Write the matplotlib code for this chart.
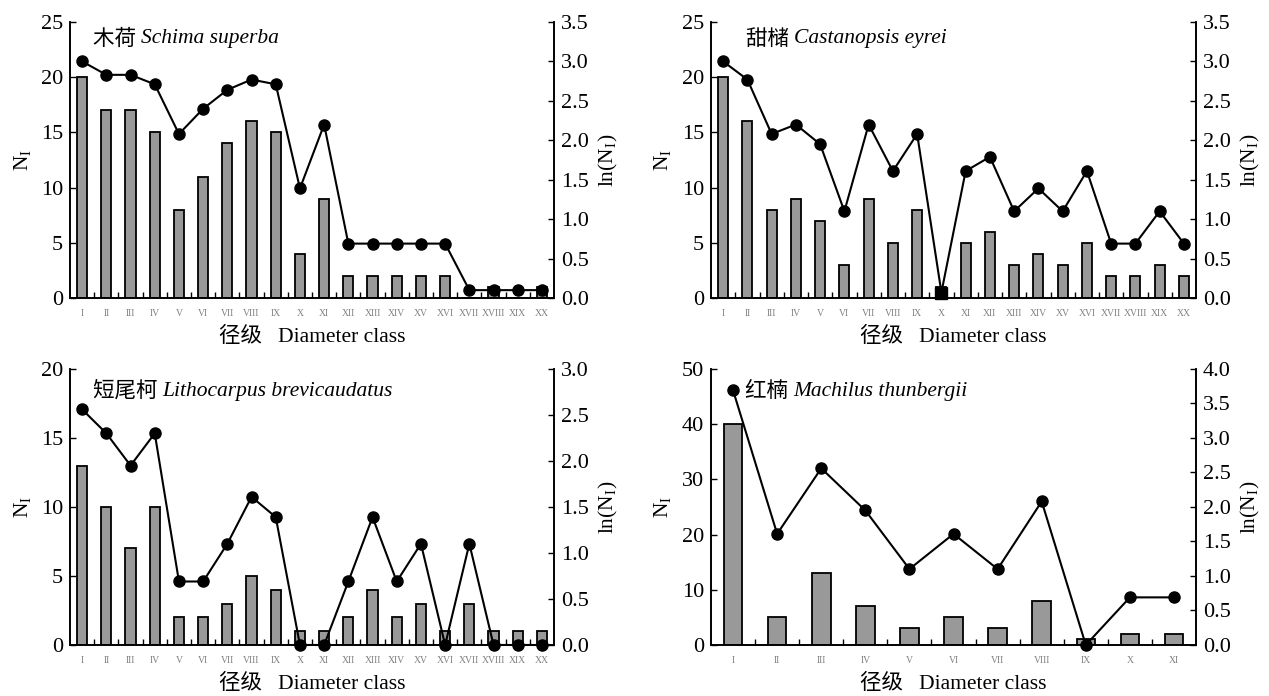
import matplotlib.pyplot as plt
import numpy as np
from matplotlib.ticker import FormatStrFormatter, MultipleLocator

plt.rcParams["font.family"] = ["Liberation Serif", "Noto Sans CJK SC"]
plt.rcParams["mathtext.fontset"] = "custom"
plt.rcParams["mathtext.rm"] = "Liberation Serif"
plt.rcParams["mathtext.it"] = "Liberation Serif:italic"

ROMAN = ["I", "II", "III", "IV", "V", "VI", "VII", "VIII", "IX", "X",
         "XI", "XII", "XIII", "XIV", "XV", "XVI", "XVII", "XVIII", "XIX", "XX"]

# 木荷 Schima superba
schima_n = [20, 17, 17, 15, 8, 11, 14, 16, 15, 4, 9, 2, 2, 2, 2, 2, 0, 1, 0, 1]
schima_ln = [3.0, 2.83, 2.83, 2.71, 2.08, 2.40, 2.64, 2.77, 2.71, 1.39,
             2.20, 0.69, 0.69, 0.69, 0.69, 0.69, 0.1, 0.1, 0.1, 0.1]

# 甜槠 Castanopsis eyrei
cast_n = [20, 16, 8, 9, 7, 3, 9, 5, 8, 1, 5, 6, 3, 4, 3, 5, 2, 2, 3, 2]
cast_ln = [3.0, 2.77, 2.08, 2.20, 1.95, 1.10, 2.20, 1.61, 2.08, 0.07,
           1.61, 1.79, 1.10, 1.39, 1.10, 1.61, 0.69, 0.69, 1.10, 0.69]
cast_square = [9]  # point drawn as a square

# 短尾柯 Lithocarpus brevicaudatus
litho_n = [13, 10, 7, 10, 2, 2, 3, 5, 4, 1, 1, 2, 4, 2, 3, 1, 3, 1, 1, 1]
litho_ln = [2.56, 2.30, 1.95, 2.30, 0.69, 0.69, 1.10, 1.61, 1.39, 0.0,
            0.0, 0.69, 1.39, 0.69, 1.10, 0.0, 1.10, 0.0, 0.0, 0.0]

# 红楠 Machilus thunbergii
mach_n = [40, 5, 13, 7, 3, 5, 3, 8, 1, 2, 2]
mach_ln = [3.69, 1.61, 2.56, 1.95, 1.10, 1.61, 1.10, 2.08, 0.0, 0.69, 0.69]

PANELS = [
    dict(cn="木荷", latin="Schima superba", n=schima_n, ln=schima_ln,
         ymax=25, ystep=5, rmax=3.5, square=[],
         rect=[0.0552, 0.5718, 0.3814, 0.3966], title_xy=(0.048, 0.94)),
    dict(cn="甜槠", latin="Castanopsis eyrei", n=cast_n, ln=cast_ln,
         ymax=25, ystep=5, rmax=3.5, square=cast_square,
         rect=[0.5603, 0.5718, 0.3822, 0.3966], title_xy=(0.072, 0.94)),
    dict(cn="短尾柯", latin="Lithocarpus brevicaudatus", n=litho_n, ln=litho_ln,
         ymax=20, ystep=5, rmax=3.0, square=[],
         rect=[0.0552, 0.0733, 0.3814, 0.3966], title_xy=(0.048, 0.92)),
    dict(cn="红楠", latin="Machilus thunbergii", n=mach_n, ln=mach_ln,
         ymax=50, ystep=10, rmax=4.0, square=[],
         rect=[0.5603, 0.0733, 0.3822, 0.3966], title_xy=(0.070, 0.92)),
]

BAR_COLOR = "#999999"
FS_TICK = 16
FS_LABEL = 15.5
FS_TITLE = 15.5


def draw_panel(fig, p):
    n = len(p["n"])
    x = np.arange(n)
    ax = fig.add_axes(p["rect"])
    ax.bar(x, p["n"], width=0.42, color=BAR_COLOR, edgecolor="black", linewidth=1.3, zorder=2)
    ax.set_xlim(-0.5, n - 0.5)
    ax.set_ylim(0, p["ymax"])
    ax.yaxis.set_major_locator(MultipleLocator(p["ystep"]))
    ax.set_xticks(x)
    ax.set_xticklabels(ROMAN[:n], fontsize=7, color="#808080")
    ax.set_xticks(x[:-1] + 0.5, minor=True)
    ax.tick_params(axis="x", which="major", length=0, pad=8)
    ax.tick_params(axis="x", which="minor", direction="in", length=4, width=1)
    ax.tick_params(axis="y", direction="in", length=4, width=1, labelsize=FS_TICK, pad=5)
    ax.spines["top"].set_visible(False)
    for s in ("left", "bottom", "right"):
        ax.spines[s].set_linewidth(1.2)
    ax.set_ylabel(r"N$_\mathregular{I}$", fontsize=FS_LABEL, labelpad=6)
    ax.set_xlabel("径级   Diameter class", fontsize=FS_LABEL, labelpad=6)

    ax2 = ax.twinx()
    ax2.plot(x, p["ln"], color="black", linewidth=1.5, marker="o", markersize=8,
             clip_on=False, zorder=3)
    for i in p["square"]:
        ax2.plot(x[i], p["ln"][i], marker="s", markersize=8, color="black",
                 clip_on=False, zorder=4)
    ax2.set_ylim(0, p["rmax"])
    ax2.yaxis.set_major_locator(MultipleLocator(0.5))
    ax2.yaxis.set_major_formatter(FormatStrFormatter("%.1f"))
    ax2.tick_params(axis="y", direction="in", length=4, width=1, labelsize=FS_TICK, pad=5)
    ax2.spines["top"].set_visible(False)
    for s in ("left", "bottom", "right"):
        ax2.spines[s].set_linewidth(1.2)
    ax2.set_ylabel(r"ln(N$_\mathregular{I}$)", fontsize=FS_LABEL, rotation=90, labelpad=6)

    tx, ty = p["title_xy"]
    t = ax2.text(tx, ty, p["cn"] + " ", transform=ax.transAxes, fontsize=FS_TITLE,
                 family=["Noto Sans CJK SC"], va="center", ha="left")
    ax2.annotate(p["latin"], xy=(1, 0.5), xycoords=t, fontsize=FS_TITLE, style="italic",
                 va="center", ha="left")


fig = plt.figure(figsize=(12.69, 6.96), dpi=100)
for p in PANELS:
    draw_panel(fig, p)
fig.savefig("out.png", dpi=100)
